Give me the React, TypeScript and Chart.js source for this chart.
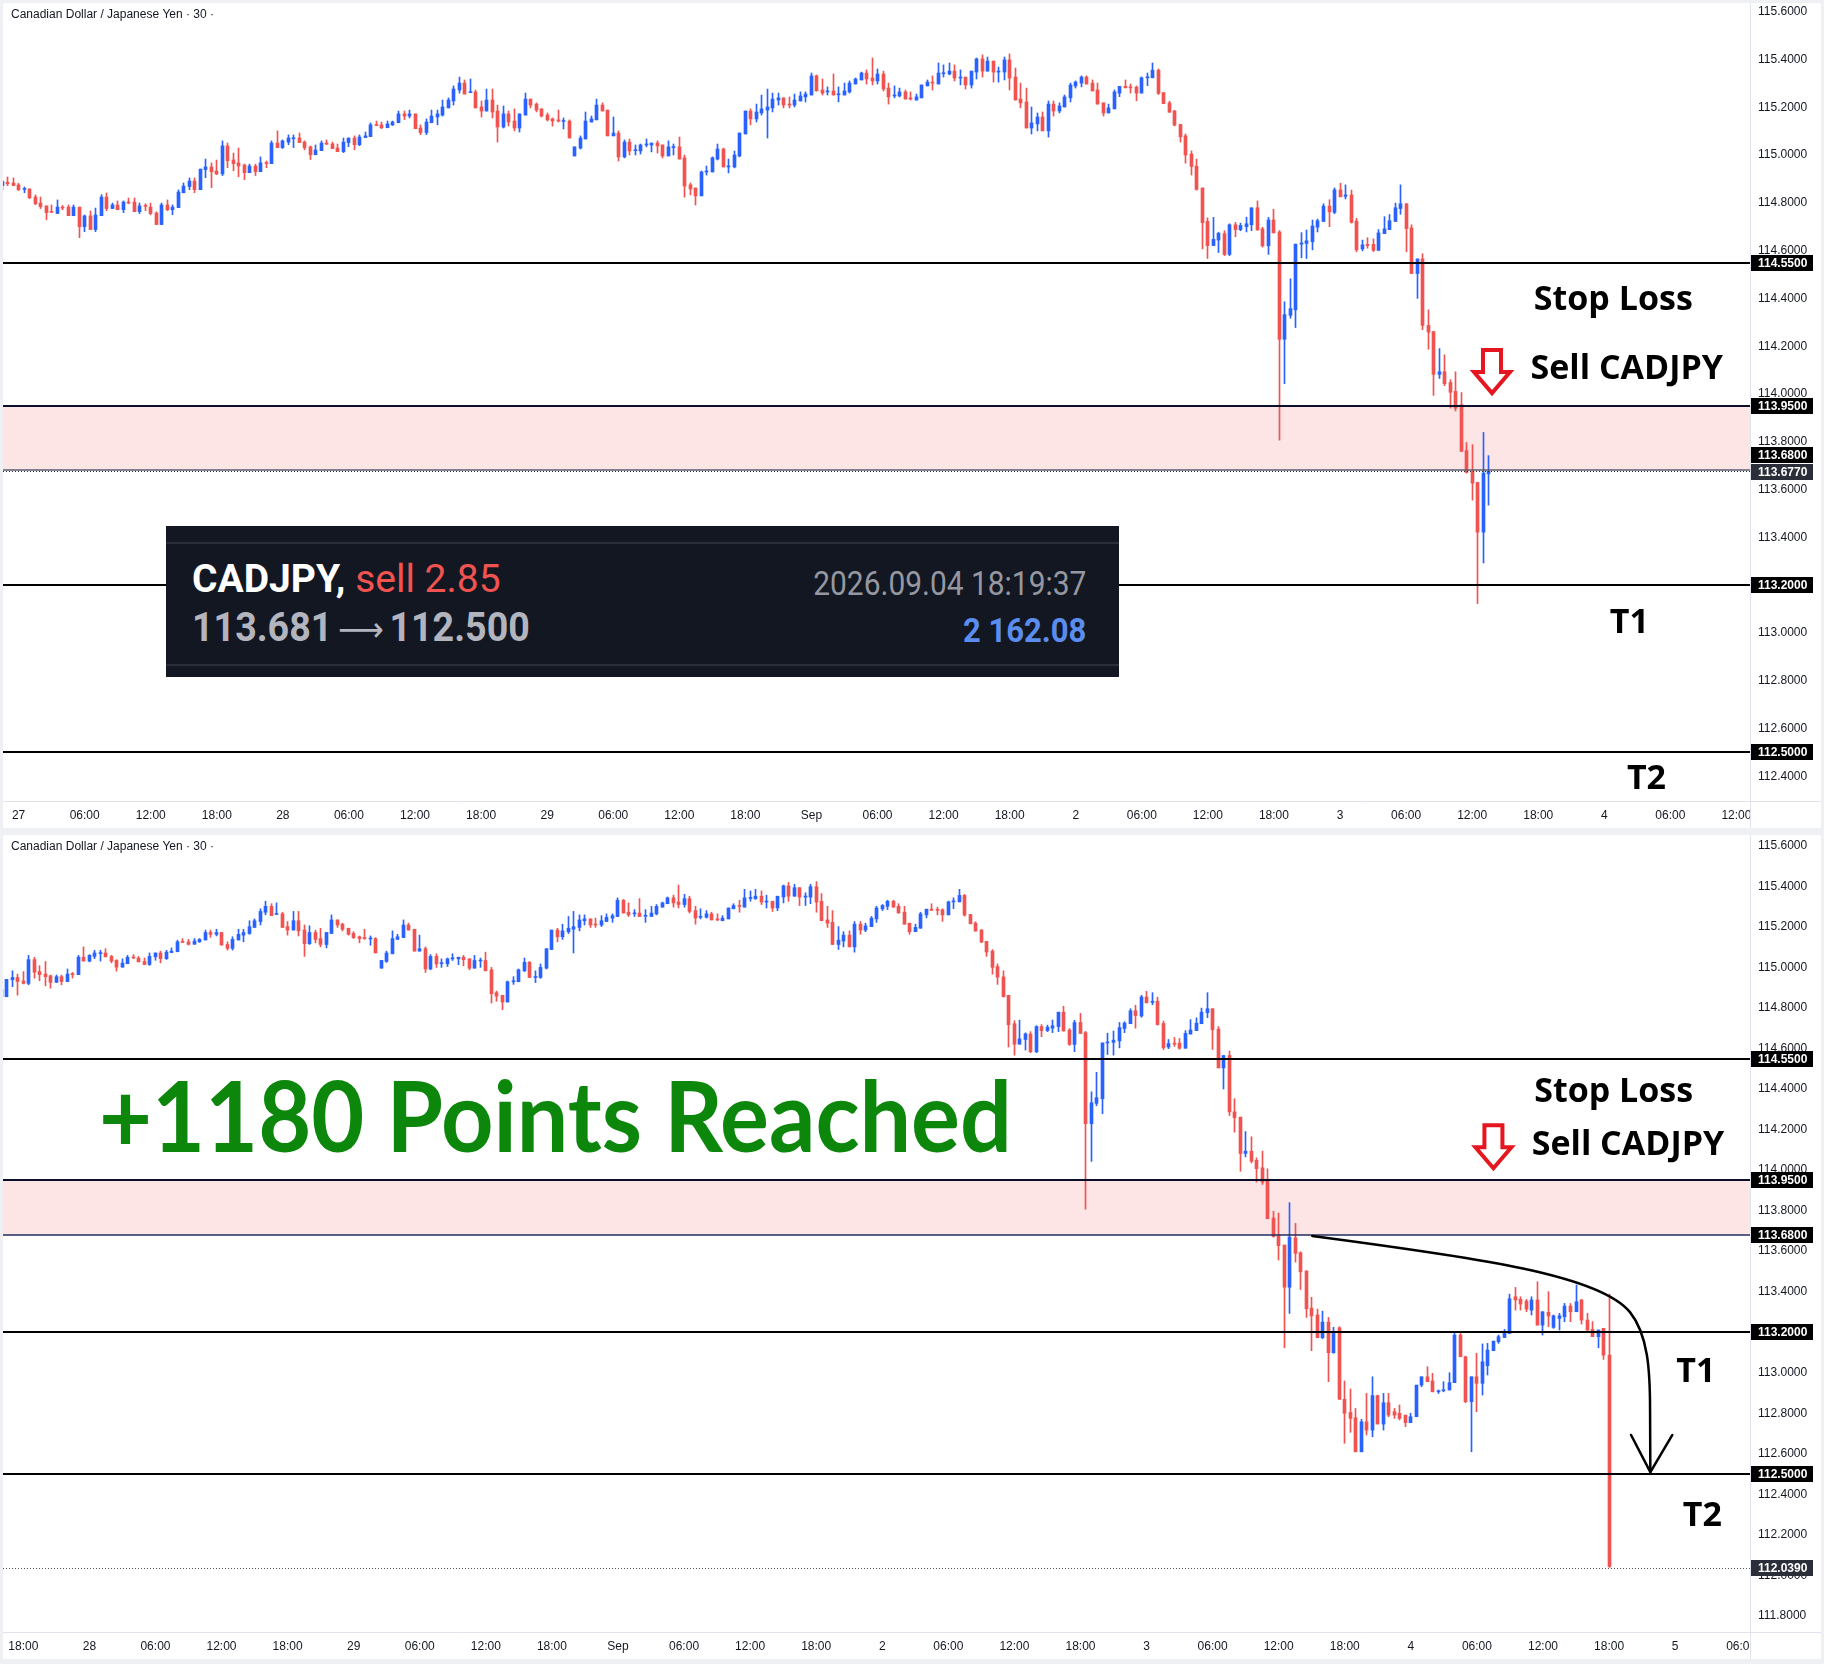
import React, { useEffect, useRef } from 'react';
import { Chart, registerables } from 'chart.js';

Chart.register(...registerables);

// ---------------- DATA (30-minute CAD/JPY candles, index 0 = 26th 22:30) ----------------
const opens = [
  114.872,114.886,114.883,114.875,114.856,114.858,114.824,114.799,114.787,114.762,
  114.755,114.782,114.782,114.746,114.782,114.700,114.745,114.688,114.746,114.824,
  114.776,114.791,114.771,114.803,114.803,114.763,114.789,114.782,114.757,114.709,
  114.791,114.771,114.780,114.842,114.868,114.891,114.855,114.939,114.950,114.933,
  114.921,115.038,114.979,114.967,114.958,114.926,114.954,114.930,114.967,114.964,
  115.050,115.031,115.054,115.068,115.071,115.054,115.034,115.001,115.018,115.050,
  115.046,115.029,115.014,115.052,115.071,115.043,115.073,115.077,115.126,115.126,
  115.114,115.126,115.135,115.172,115.163,115.172,115.113,115.094,115.135,115.159,
  115.167,115.197,115.226,115.272,115.301,115.261,115.264,115.201,115.184,115.230,
  115.184,115.117,115.172,115.142,115.113,115.167,115.234,115.213,115.193,115.167,
  115.151,115.147,115.140,115.142,114.996,115.029,115.067,115.138,115.147,115.209,
  115.188,115.080,115.092,114.992,115.054,115.018,115.017,115.042,115.042,115.050,
  115.042,114.996,115.031,115.034,114.988,114.875,114.862,114.829,114.929,114.929,
  114.983,115.025,114.950,114.950,114.996,115.088,115.184,115.151,115.176,115.188,
  115.197,115.230,115.239,115.213,115.209,115.226,115.243,115.251,115.331,115.272,
  115.264,115.268,115.252,115.251,115.264,115.297,115.314,115.343,115.322,115.310,
  115.339,115.280,115.247,115.247,115.264,115.239,115.230,115.239,115.289,115.305,
  115.297,115.340,115.339,115.351,115.322,115.326,115.293,115.347,115.402,115.351,
  115.393,115.347,115.347,115.398,115.326,115.234,115.222,115.113,115.130,115.159,
  115.101,115.213,115.184,115.201,115.239,115.289,115.301,115.326,115.301,115.272,
  115.218,115.176,115.193,115.259,115.287,115.284,115.284,115.259,115.323,115.323,
  115.355,115.261,115.218,115.184,115.128,115.080,115.004,114.953,114.862,114.722,
  114.621,114.644,114.671,114.584,114.708,114.688,114.700,114.708,114.779,114.691,
  114.620,114.728,114.678,114.229,114.329,114.352,114.627,114.630,114.637,114.698,
  114.722,114.786,114.760,114.854,114.827,114.833,114.723,114.607,114.626,114.626,
  114.601,114.671,114.688,114.722,114.776,114.796,114.695,114.504,114.565,114.287,
  114.261,114.082,114.093,114.048,114.011,113.955,113.763,113.675,113.630,113.422,
  113.666,113.592,113.502,113.319,113.285,113.173,113.250,113.099,113.222,112.869,
  112.804,112.778,112.610,112.758,112.717,112.887,112.747,112.852,112.808,112.800,
  112.791,112.754,112.783,112.939,112.980,112.959,112.906,112.911,112.915,112.951,
  113.186,113.079,112.857,112.980,112.948,113.035,113.109,113.153,113.174,113.194,
  113.375,113.362,113.354,113.309,113.359,113.235,113.298,113.224,113.268,113.276,
  113.329,113.301,113.359,113.260,113.214,113.178,113.219,113.087,
];
const highs = [
  114.893,114.908,114.904,114.882,114.866,114.858,114.833,114.824,114.787,114.791,
  114.812,114.789,114.791,114.791,114.782,114.749,114.766,114.778,114.834,114.841,
  114.799,114.808,114.808,114.820,114.820,114.799,114.796,114.799,114.762,114.799,
  114.812,114.791,114.854,114.883,114.904,114.904,114.941,114.983,114.967,114.979,
  115.059,115.050,115.008,115.029,114.962,114.962,114.962,114.992,114.975,115.059,
  115.101,115.063,115.084,115.084,115.092,115.059,115.038,115.042,115.059,115.063,
  115.054,115.046,115.071,115.071,115.080,115.084,115.096,115.134,115.142,115.138,
  115.142,115.142,115.184,115.184,115.188,115.172,115.126,115.151,115.188,115.188,
  115.230,115.239,115.289,115.326,115.314,115.318,115.272,115.226,115.276,115.276,
  115.209,115.205,115.184,115.193,115.172,115.259,115.234,115.218,115.193,115.176,
  115.155,115.188,115.155,115.147,115.034,115.080,115.180,115.163,115.234,115.218,
  115.188,115.159,115.101,115.063,115.067,115.042,115.046,115.067,115.050,115.059,
  115.042,115.059,115.046,115.075,115.000,114.883,114.862,114.933,114.954,114.992,
  115.046,115.029,114.983,115.017,115.092,115.184,115.193,115.213,115.251,115.276,
  115.259,115.259,115.239,115.243,115.255,115.264,115.264,115.343,115.335,115.318,
  115.285,115.339,115.285,115.301,115.310,115.322,115.347,115.356,115.406,115.360,
  115.351,115.301,115.289,115.280,115.272,115.264,115.255,115.293,115.314,115.331,
  115.385,115.377,115.385,115.377,115.356,115.326,115.351,115.406,115.419,115.410,
  115.393,115.368,115.410,115.423,115.364,115.301,115.280,115.201,115.176,115.180,
  115.226,115.226,115.218,115.251,115.301,115.310,115.331,115.331,115.314,115.301,
  115.218,115.213,115.272,115.287,115.314,115.297,115.289,115.327,115.343,115.385,
  115.360,115.261,115.225,115.187,115.128,115.088,115.017,114.983,114.862,114.737,
  114.739,114.677,114.683,114.712,114.718,114.715,114.740,114.779,114.808,114.698,
  114.739,114.773,114.684,114.386,114.482,114.627,114.675,114.686,114.728,114.732,
  114.796,114.813,114.862,114.882,114.875,114.853,114.735,114.644,114.654,114.649,
  114.688,114.742,114.751,114.799,114.875,114.796,114.708,114.565,114.587,114.352,
  114.261,114.190,114.164,114.060,114.093,114.006,113.797,113.788,113.630,113.839,
  113.737,113.597,113.503,113.372,113.314,113.304,113.273,113.224,113.227,112.959,
  112.920,112.824,112.770,112.898,112.980,112.890,112.898,112.898,112.824,112.841,
  112.791,112.800,112.939,112.980,113.030,112.997,112.915,112.956,113.000,113.194,
  113.194,113.082,112.980,113.096,113.142,113.145,113.156,113.186,113.214,113.388,
  113.421,113.375,113.362,113.375,113.449,113.301,113.400,113.285,113.293,113.342,
  113.342,113.433,113.362,113.293,113.252,113.211,113.219,113.388,
];
const lows = [
  114.854,114.872,114.872,114.851,114.842,114.817,114.792,114.776,114.729,114.759,
  114.755,114.771,114.746,114.746,114.654,114.679,114.688,114.679,114.746,114.767,
  114.776,114.771,114.759,114.796,114.763,114.755,114.767,114.750,114.709,114.709,
  114.767,114.750,114.780,114.842,114.855,114.842,114.855,114.905,114.863,114.918,
  114.914,114.947,114.934,114.909,114.897,114.926,114.914,114.930,114.947,114.964,
  115.031,115.027,115.043,115.031,115.052,115.022,114.981,115.001,115.018,115.043,
  115.027,115.014,115.010,115.035,115.022,115.039,115.073,115.077,115.123,115.110,
  115.114,115.123,115.135,115.148,115.155,115.110,115.085,115.085,115.135,115.126,
  115.163,115.197,115.209,115.259,115.255,115.261,115.197,115.159,115.184,115.155,
  115.054,115.113,115.121,115.101,115.096,115.167,115.197,115.180,115.159,115.142,
  115.121,115.138,115.109,115.071,114.996,115.025,115.067,115.138,115.147,115.184,
  115.080,115.080,114.975,114.988,115.000,115.000,115.004,115.034,115.013,115.008,
  114.988,114.996,115.000,114.983,114.824,114.833,114.791,114.829,114.916,114.929,
  114.979,114.950,114.925,114.946,114.992,115.088,115.126,115.138,115.167,115.071,
  115.180,115.209,115.197,115.197,115.201,115.226,115.222,115.251,115.268,115.251,
  115.251,115.251,115.222,115.251,115.259,115.297,115.314,115.297,115.293,115.297,
  115.268,115.213,115.239,115.243,115.234,115.230,115.230,115.239,115.289,115.272,
  115.297,115.326,115.335,115.310,115.293,115.276,115.280,115.318,115.326,115.351,
  115.305,115.305,115.314,115.272,115.230,115.197,115.113,115.088,115.101,115.101,
  115.075,115.163,115.176,115.201,115.222,115.280,115.285,115.297,115.268,115.213,
  115.163,115.176,115.193,115.244,115.281,115.259,115.227,115.259,115.290,115.323,
  115.253,115.215,115.179,115.122,115.054,114.966,114.916,114.853,114.607,114.567,
  114.621,114.592,114.579,114.579,114.658,114.683,114.678,114.683,114.686,114.615,
  114.584,114.674,113.807,114.043,114.317,114.278,114.570,114.567,114.603,114.678,
  114.722,114.700,114.754,114.825,114.816,114.715,114.595,114.599,114.610,114.596,
  114.601,114.671,114.688,114.722,114.752,114.595,114.504,114.400,114.269,114.187,
  113.994,114.065,114.035,113.941,113.929,113.760,113.669,113.556,113.123,113.293,
  113.546,113.411,113.273,113.109,113.173,113.168,112.956,113.096,112.869,112.652,
  112.706,112.610,112.610,112.693,112.684,112.747,112.717,112.783,112.775,112.767,
  112.734,112.754,112.783,112.931,112.956,112.906,112.898,112.906,112.915,112.951,
  113.079,112.852,112.610,112.808,112.890,112.989,113.109,113.145,113.174,113.194,
  113.309,113.309,113.301,113.285,113.235,113.186,113.227,113.219,113.211,113.252,
  113.252,113.301,113.240,113.202,113.178,113.123,113.066,112.039,
];
const closes = [
  114.889,114.879,114.872,114.855,114.858,114.821,114.796,114.784,114.759,114.760,
  114.782,114.778,114.746,114.782,114.700,114.745,114.688,114.749,114.824,114.776,
  114.791,114.771,114.803,114.799,114.763,114.787,114.785,114.755,114.709,114.791,
  114.771,114.782,114.845,114.870,114.891,114.855,114.941,114.950,114.930,114.921,
  115.038,114.976,114.964,114.954,114.926,114.954,114.930,114.967,114.964,115.050,
  115.031,115.059,115.071,115.071,115.052,115.031,115.001,115.021,115.050,115.046,
  115.027,115.014,115.054,115.071,115.043,115.075,115.080,115.126,115.123,115.114,
  115.130,115.138,115.172,115.163,115.172,115.110,115.094,115.138,115.163,115.172,
  115.201,115.230,115.276,115.301,115.255,115.264,115.197,115.184,115.230,115.180,
  115.117,115.172,115.138,115.113,115.172,115.234,115.209,115.188,115.163,115.147,
  115.142,115.142,115.142,115.071,115.034,115.071,115.142,115.151,115.209,115.184,
  115.080,115.092,114.992,115.054,115.017,115.021,115.042,115.046,115.050,115.038,
  114.996,115.034,115.034,114.983,114.870,114.858,114.829,114.929,114.933,114.988,
  115.025,114.950,114.954,115.000,115.092,115.184,115.151,115.180,115.193,115.201,
  115.234,115.239,115.209,115.209,115.230,115.247,115.255,115.331,115.268,115.259,
  115.268,115.251,115.255,115.268,115.301,115.318,115.343,115.318,115.310,115.339,
  115.276,115.243,115.251,115.264,115.234,115.234,115.243,115.293,115.305,115.301,
  115.343,115.343,115.351,115.322,115.326,115.293,115.351,115.402,115.351,115.393,
  115.347,115.351,115.398,115.322,115.230,115.218,115.113,115.134,115.159,115.101,
  115.213,115.184,115.205,115.243,115.293,115.305,115.326,115.297,115.268,115.213,
  115.176,115.197,115.264,115.287,115.281,115.281,115.259,115.323,115.326,115.355,
  115.258,115.215,115.179,115.125,115.076,115.000,114.952,114.856,114.717,114.621,
  114.647,114.672,114.584,114.708,114.688,114.705,114.712,114.779,114.686,114.620,
  114.728,114.674,114.229,114.332,114.357,114.627,114.632,114.641,114.703,114.725,
  114.786,114.762,114.854,114.825,114.833,114.718,114.603,114.624,114.621,114.601,
  114.674,114.691,114.725,114.779,114.796,114.692,114.504,114.565,114.287,114.259,
  114.082,114.093,114.043,114.007,113.940,113.760,113.672,113.627,113.422,113.669,
  113.589,113.498,113.316,113.281,113.173,113.250,113.099,113.194,112.869,112.800,
  112.775,112.610,112.758,112.717,112.887,112.747,112.852,112.791,112.791,112.775,
  112.754,112.783,112.939,112.980,112.956,112.906,112.911,112.915,112.951,113.186,
  113.079,112.857,112.980,112.948,113.054,113.112,113.156,113.178,113.197,113.365,
  113.359,113.339,113.314,113.359,113.235,113.301,113.280,113.281,113.281,113.329,
  113.301,113.350,113.260,113.211,113.178,113.211,113.087,112.045,
];
// the upper screenshot was taken while candle 270 was still forming: [open, high, low, close]
const topLiveCandle = [113.666, 113.742, 113.535, 113.677];

const dayLabels = ['27', '28', '29', 'Sep', '2', '3', '4', '5'];
const hourLabels = ['06:00', '12:00', '18:00'];
const topPriceTicks = [112.4, 112.6, 112.8, 113.0, 113.2, 113.4, 113.6, 113.8, 114.0, 114.2, 114.4, 114.6, 114.8, 115.0, 115.2, 115.4, 115.6];
const bottomPriceTicks = [111.8, 112.0, 112.2, 112.4, 112.6, 112.8, 113.0, 113.2, 113.4, 113.6, 113.8, 114.0, 114.2, 114.4, 114.6, 114.8, 115.0, 115.2, 115.4, 115.6];

const stopLossPrice = 114.55;
const zoneTopPrice = 113.95;
const entryPrice = 113.68;
const target1Price = 113.2;
const target2Price = 112.5;
const topCurrentPrice = 113.677;
const bottomLowPrice = 112.039;

// projected path drawn in the lower panel: [candle index, price]
const curvePath = [
  [273.1, 113.675], [303.6, 113.566], [325.4, 113.482], [330.8, 113.299],
  [334.1, 113.186], [334.45, 113.013], [334.45, 112.816], [334.5, 112.51],
];
const curveHead = [[331.0, 112.693], [334.5, 112.51], [338.5, 112.693]];

const TITLE = 'Canadian Dollar / Japanese Yen \u00B7 30 \u00B7';

// ---------------- STYLE ----------------
const BLUE = '#2962ff';
const RED = '#f05350';
const AXIS_FONT = { family: '"Liberation Sans", Arial, sans-serif', size: 12 };
const LABEL_FONT = '700 34px "Open Sans"';

const labelForIndex = (v: number) => {
  const k = Math.round((v - 3) / 12);
  const d = Math.floor(k / 4);
  const r = ((k % 4) + 4) % 4;
  return r === 0 ? dayLabels[d] : hourLabels[r - 1];
};

const TOP = {
  width: 1818, height: 825,
  xMin: 0.17, xMax: 317.46, yMin: 112.297, yMax: 115.636,
  lastIndex: 270, live: topLiveCandle,
  xFirst: 3, xLast: 315, yTicks: topPriceTicks,
  lines: [
    { v: stopLossPrice, c: '#000000', w: 2 },
    { v: zoneTopPrice, c: '#0b0f2a', w: 2 },
    { v: entryPrice, c: '#5a5e70', w: 1.5 },
    { v: topCurrentPrice, c: '#2a2e39', w: 1, dash: [1, 2] },
    { v: target1Price, c: '#000000', w: 2 },
    { v: target2Price, c: '#000000', w: 2 },
  ],
  boxes: [
    { v: stopLossPrice, bg: '#000000', dy: 0 },
    { v: zoneTopPrice, bg: '#000000', dy: 0 },
    { v: entryPrice, bg: '#000000', dy: -15 },
    { v: topCurrentPrice, bg: '#2a2e39', dy: 1 },
    { v: target1Price, bg: '#000000', dy: 0 },
    { v: target2Price, bg: '#000000', dy: 0 },
  ],
  texts: [
    { t: 'Stop Loss', i: 278.2, p: 114.351, font: LABEL_FONT, color: '#000' },
    { t: 'Sell CADJPY', i: 277.6, p: 114.062, font: LABEL_FONT, color: '#000' },
    { t: 'T1', i: 292.0, p: 113.001, font: LABEL_FONT, color: '#000' },
    { t: 'T2', i: 295.1, p: 112.347, font: LABEL_FONT, color: '#000' },
  ],
  arrows: [{ i: 270.6, p: 113.987 }],
  curve: false,
};

const BOTTOM = {
  width: 1818, height: 824,
  xMin: 35.31, xMax: 352.6, yMin: 111.721, yMax: 115.653,
  lastIndex: 327, live: null,
  xFirst: 39, xLast: 351, yTicks: bottomPriceTicks,
  lines: [
    { v: stopLossPrice, c: '#000000', w: 2 },
    { v: zoneTopPrice, c: '#0b0f2a', w: 2 },
    { v: entryPrice, c: '#1f2c5c', w: 1.5 },
    { v: target1Price, c: '#000000', w: 2 },
    { v: target2Price, c: '#000000', w: 2 },
    { v: bottomLowPrice, c: '#50535e', w: 1, dash: [1, 2] },
  ],
  boxes: [
    { v: stopLossPrice, bg: '#000000', dy: 0 },
    { v: zoneTopPrice, bg: '#000000', dy: 0 },
    { v: entryPrice, bg: '#000000', dy: 0 },
    { v: target1Price, bg: '#000000', dy: 0 },
    { v: target2Price, bg: '#000000', dy: 0 },
    { v: bottomLowPrice, bg: '#2a2e39', dy: 0 },
  ],
  texts: [
    { t: 'Stop Loss', i: 313.4, p: 114.337, font: LABEL_FONT, color: '#000' },
    { t: 'Sell CADJPY', i: 312.95, p: 114.074, font: LABEL_FONT, color: '#000' },
    { t: 'T1', i: 339.2, p: 112.956, font: LABEL_FONT, color: '#000' },
    { t: 'T2', i: 340.4, p: 112.244, font: LABEL_FONT, color: '#000' },
    { t: '+1180 Points Reached', i: 52.73, p: 114.09, font: '700 97px Lato', color: '#0c870c', maxWidth: 913 },
  ],
  arrows: [{ i: 306.0, p: 113.989 }],
  curve: true,
};

function drawDownArrow(ctx: CanvasRenderingContext2D, tx: number, ty: number) {
  ctx.save();
  ctx.strokeStyle = '#e5161f';
  ctx.lineWidth = 4;
  ctx.lineJoin = 'miter';
  ctx.beginPath();
  ctx.moveTo(tx - 9, ty - 47);
  ctx.lineTo(tx + 9, ty - 47);
  ctx.lineTo(tx + 9, ty - 25);
  ctx.lineTo(tx + 18, ty - 25);
  ctx.lineTo(tx, ty - 4);
  ctx.lineTo(tx - 18, ty - 25);
  ctx.lineTo(tx - 9, ty - 25);
  ctx.closePath();
  ctx.stroke();
  ctx.restore();
}

function makeDecor(cfg: any) {
  return {
    id: 'decor',
    beforeDatasetsDraw(chart: any) {
      const { ctx, chartArea: a, scales } = chart;
      const y = scales.y;
      const yt = y.getPixelForValue(zoneTopPrice);
      const yb = y.getPixelForValue(entryPrice);
      ctx.save();
      ctx.fillStyle = '#fde4e5';
      ctx.fillRect(a.left, yt, a.right - a.left, yb - yt);
      ctx.restore();
      // snap candles to the pixel grid
      chart.data.datasets.forEach((_ds: any, di: number) => {
        const meta = chart.getDatasetMeta(di);
        meta.data.forEach((el: any) => { el.x = Math.round(el.x - 0.5) + 0.5; });
      });
    },
    afterDatasetsDraw(chart: any) {
      const { ctx, chartArea: a, scales } = chart;
      const x = scales.x, y = scales.y;
      ctx.save();
      ctx.beginPath();
      ctx.rect(a.left, a.top, a.right - a.left, a.bottom - a.top);
      ctx.clip();
      cfg.lines.forEach((l: any) => {
        let py = y.getPixelForValue(l.v);
        py = l.w % 2 === 1 ? Math.round(py) + 0.5 : Math.round(py);
        ctx.beginPath();
        ctx.strokeStyle = l.c;
        ctx.lineWidth = l.w;
        ctx.setLineDash(l.dash || []);
        ctx.moveTo(a.left, py);
        ctx.lineTo(a.right, py);
        ctx.stroke();
      });
      ctx.setLineDash([]);
      if (cfg.curve) {
        const P = (pt: number[]) => [x.getPixelForValue(pt[0]), y.getPixelForValue(pt[1])];
        const pts = curvePath.map(P);
        ctx.strokeStyle = '#000';
        ctx.lineWidth = 2.5;
        ctx.lineCap = 'round';
        ctx.beginPath();
        ctx.moveTo(pts[0][0], pts[0][1]);
        ctx.bezierCurveTo(pts[1][0], pts[1][1], pts[2][0], pts[2][1], pts[3][0], pts[3][1]);
        ctx.bezierCurveTo(pts[4][0], pts[4][1], pts[5][0], pts[5][1], pts[6][0], pts[6][1]);
        ctx.lineTo(pts[7][0], pts[7][1]);
        ctx.stroke();
        const h = curveHead.map(P);
        ctx.beginPath();
        ctx.moveTo(h[0][0], h[0][1]);
        ctx.lineTo(h[1][0], h[1][1]);
        ctx.lineTo(h[2][0], h[2][1]);
        ctx.stroke();
      }
      cfg.arrows.forEach((ar: any) => drawDownArrow(ctx, x.getPixelForValue(ar.i), y.getPixelForValue(ar.p)));
      cfg.texts.forEach((t: any) => {
        ctx.font = t.font;
        ctx.fillStyle = t.color;
        ctx.textAlign = 'left';
        ctx.textBaseline = 'alphabetic';
        const px = x.getPixelForValue(t.i), py = y.getPixelForValue(t.p);
        if (t.maxWidth) ctx.fillText(t.t, px, py, t.maxWidth);
        else ctx.fillText(t.t, px, py);
      });
      ctx.restore();
    },
    afterDraw(chart: any) {
      const { ctx, chartArea: a, scales, width, height } = chart;
      const y = scales.y;
      ctx.save();
      ctx.fillStyle = '#ffffff';
      ctx.fillRect(a.right + 1, a.bottom + 1, width - a.right, height - a.bottom);
      ctx.strokeStyle = '#e0e3eb';
      ctx.lineWidth = 1;
      ctx.beginPath();
      ctx.moveTo(Math.round(a.right) + 0.5, 0);
      ctx.lineTo(Math.round(a.right) + 0.5, height);
      ctx.moveTo(0, Math.round(a.bottom) + 0.5);
      ctx.lineTo(width, Math.round(a.bottom) + 0.5);
      ctx.stroke();
      cfg.boxes.forEach((b: any) => {
        const yy = Math.round(y.getPixelForValue(b.v)) + b.dy;
        ctx.fillStyle = b.bg;
        ctx.fillRect(a.right + 1, yy - 8, 62, 16);
        ctx.fillStyle = '#ffffff';
        ctx.font = 'bold 12px "Liberation Sans", Arial, sans-serif';
        ctx.textAlign = 'left';
        ctx.textBaseline = 'middle';
        ctx.fillText(b.v.toFixed(4), a.right + 8, yy + 0.5);
      });
      ctx.fillStyle = '#131722';
      ctx.font = '12px "Liberation Sans", Arial, sans-serif';
      ctx.textAlign = 'left';
      ctx.textBaseline = 'middle';
      ctx.fillText(TITLE, 8, 12);
      ctx.restore();
    },
  };
}

function makeChart(canvas: HTMLCanvasElement, cfg: any) {
  const idx: number[] = [];
  for (let i = 0; i <= cfg.lastIndex; i++) idx.push(i);
  const candle = (i: number) =>
    cfg.live && i === cfg.lastIndex ? cfg.live : [opens[i], highs[i], lows[i], closes[i]];
  const wickData = idx.map((i) => { const c = candle(i); return { x: i, y: [c[2], c[1]] }; });
  const bodyData = idx.map((i) => { const c = candle(i); return { x: i, y: [c[0], c[3]] }; });
  const colors = idx.map((i) => { const c = candle(i); return c[3] >= c[0] ? BLUE : RED; });
  const xTicks: number[] = [];
  for (let v = cfg.xFirst; v <= cfg.xLast; v += 12) xTicks.push(v);

  return new Chart(canvas, {
    type: 'bar',
    data: {
      datasets: [
        { label: 'wick', data: wickData as any, backgroundColor: colors, barThickness: 1, grouped: false, order: 1, borderWidth: 0, clip: 0 } as any,
        { label: 'body', data: bodyData as any, backgroundColor: colors, barThickness: 3, minBarLength: 1, grouped: false, order: 0, borderWidth: 0, clip: 0 } as any,
      ],
    },
    options: {
      animation: false,
      responsive: false,
      maintainAspectRatio: false,
      events: [],
      layout: { padding: 0 },
      plugins: { legend: { display: false }, tooltip: { enabled: false } },
      scales: {
        x: {
          type: 'linear',
          min: cfg.xMin,
          max: cfg.xMax,
          offset: false,
          grid: { display: false, drawTicks: false, offset: false },
          border: { display: false },
          afterBuildTicks: (s: any) => { s.ticks = xTicks.map((v) => ({ value: v })); },
          afterFit: (s: any) => { s.height = 27; s.paddingLeft = 0; s.paddingRight = 0; },
          ticks: {
            autoSkip: false, maxRotation: 0, minRotation: 0, padding: 7,
            color: '#131722', font: AXIS_FONT,
            callback: (v: any) => labelForIndex(Number(v)),
          },
        },
        y: {
          type: 'linear',
          position: 'right',
          min: cfg.yMin,
          max: cfg.yMax,
          grid: { display: false, drawTicks: false },
          border: { display: false },
          afterBuildTicks: (s: any) => { s.ticks = cfg.yTicks.map((v: number) => ({ value: v })); },
          afterFit: (s: any) => { s.width = 71; s.paddingTop = 0; s.paddingBottom = 0; },
          ticks: {
            padding: 8, color: '#131722', font: AXIS_FONT,
            callback: (v: any) => Number(v).toFixed(4),
          },
        },
      } as any,
    },
    plugins: [makeDecor(cfg)],
  } as any);
}

const InfoBox = () => (
  <div style={{ position: 'absolute', left: 163, top: 523, width: 953, height: 151, background: '#131722', fontFamily: 'Roboto, sans-serif', overflow: 'hidden' }}>
    <div style={{ position: 'absolute', left: 0, right: 0, top: 16, height: 2, background: '#2a2e39' }} />
    <div style={{ position: 'absolute', left: 0, right: 0, top: 138, height: 2, background: '#2a2e39' }} />
    <div style={{ position: 'absolute', left: 26, top: 34, fontSize: 39, lineHeight: '39px', whiteSpace: 'nowrap', transform: 'scaleX(1.0)', transformOrigin: 'left center' }}>
      <span style={{ color: '#ffffff', fontWeight: 700 }}>CADJPY,</span>
      <span style={{ color: '#f05350' }}> sell 2.85</span>
    </div>
    <div style={{ position: 'absolute', left: 26, top: 82, fontSize: 40, lineHeight: '40px', whiteSpace: 'nowrap', color: '#b2b5be', fontWeight: 700, transform: 'scaleX(0.94)', transformOrigin: 'left center' }}>
      113.681<span style={{ fontFamily: '"DejaVu Sans", sans-serif', fontWeight: 400, fontSize: 34, margin: '0 6px' }}>⟶</span>112.500
    </div>
    <div style={{ position: 'absolute', right: 33, top: 40, fontSize: 34, lineHeight: '34px', whiteSpace: 'nowrap', color: '#9598a1', transform: 'scaleX(0.88)', transformOrigin: 'right center' }}>
      2026.09.04 18:19:37
    </div>
    <div style={{ position: 'absolute', right: 33, top: 88, fontSize: 33, lineHeight: '33px', whiteSpace: 'nowrap', color: '#5b8def', fontWeight: 700, transform: 'scaleX(0.94)', transformOrigin: 'right center' }}>
      2 162.08
    </div>
  </div>
);

export default function App() {
  const topRef = useRef<HTMLCanvasElement>(null);
  const botRef = useRef<HTMLCanvasElement>(null);

  useEffect(() => {
    let charts: any[] = [];
    let cancelled = false;
    const fonts = ['700 34px "Open Sans"', '700 97px Lato', '12px "Liberation Sans"', 'bold 12px "Liberation Sans"'];
    const start = () => {
      if (cancelled || !topRef.current || !botRef.current) return;
      charts = [makeChart(topRef.current, TOP), makeChart(botRef.current, BOTTOM)];
    };
    const fs: any = (document as any).fonts;
    if (fs && fs.load) {
      Promise.all(fonts.map((f) => fs.load(f).catch(() => null))).then(start, start);
    } else start();
    return () => { cancelled = true; charts.forEach((c) => c.destroy()); charts = []; };
  }, []);

  return (
    <div style={{ position: 'absolute', left: 0, top: 0, width: 1824, height: 1664, background: '#eef0f3', overflow: 'hidden' }}>
      <div style={{ position: 'absolute', left: 3, top: 3, width: 1818, height: 825, background: '#ffffff' }}>
        <canvas ref={topRef} width={1818} height={825} style={{ display: 'block', width: 1818, height: 825 }} />
        <InfoBox />
      </div>
      <div style={{ position: 'absolute', left: 3, top: 835, width: 1818, height: 824, background: '#ffffff' }}>
        <canvas ref={botRef} width={1818} height={824} style={{ display: 'block', width: 1818, height: 824 }} />
      </div>
    </div>
  );
}
